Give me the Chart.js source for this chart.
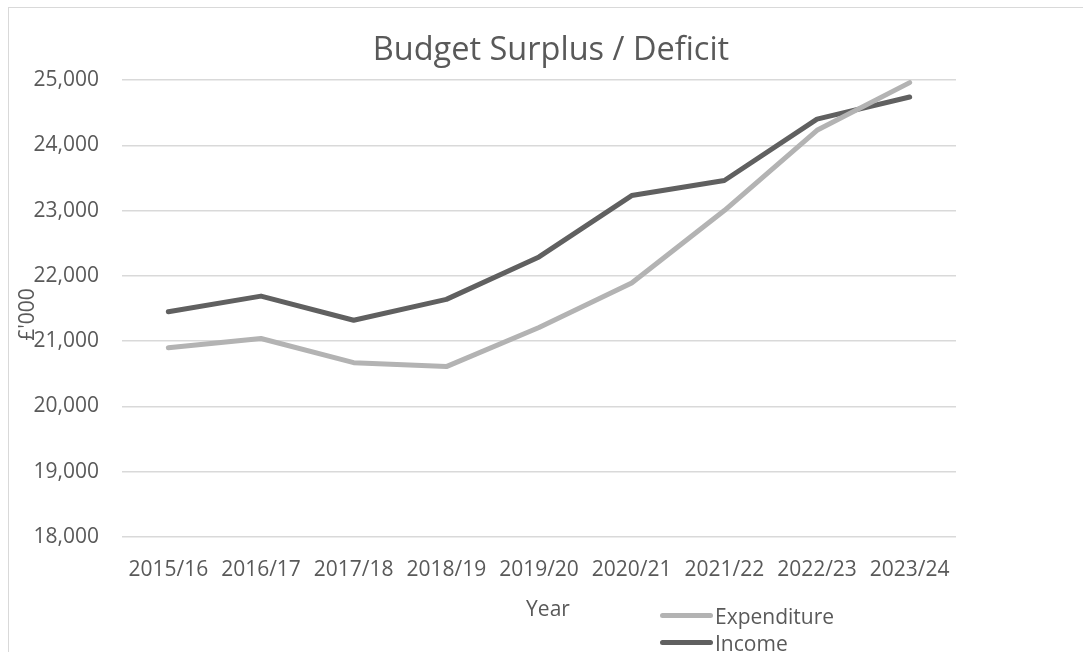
<!DOCTYPE html>
<html lang="en">
<head>
  <meta charset="UTF-8" />
  <title>Budget Surplus / Deficit</title>
  <style>
    body { margin: 0; background: #fff; font-family: 'Open Sans', sans-serif; }
    #wrap { position: relative; width: 1083px; height: 652px; overflow: hidden; }
    #frame { position: absolute; left: 8px; top: 7px; width: 1100px; height: 700px; border: 1px solid #d9d9d9; }
    #myChart { position: absolute; left: 0; top: 0; }
    #legend { position: absolute; left: 660px; top: 602px; color: #595959; font-size: 21px; }
    .item { display: flex; align-items: center; height: 27px; }
    .swatch { width: 53px; height: 5px; border-radius: 3px; margin-right: 2px; }
  </style>
</head>
<body>
  <div id="wrap">
    <div id="frame"></div>
    <canvas id="myChart" width="1083" height="652"></canvas>
    <div id="legend"></div>
  </div>

  <script src="https://cdn.jsdelivr.net/npm/chart.js"></script>
  <script>
    const years = ['2015/16', '2016/17', '2017/18', '2018/19', '2019/20', '2020/21', '2021/22', '2022/23', '2023/24'];
    const expenditure = [20900, 21040, 20670, 20610, 21210, 21890, 23000, 24230, 24960];
    const income = [21450, 21690, 21320, 21640, 22290, 23230, 23460, 24400, 24740];
    const yMin = 18000;
    const yMax = 25000;
    const chartTitle = 'Budget Surplus / Deficit';
    const xAxisTitle = 'Year';
    const yAxisTitle = "£'000";

    const textColor = '#595959';
    const fontFamily = "'Open Sans', sans-serif";

    // titles drawn by hand: they sit off-centre in the original and the y title overlaps the ticks
    const titlesPlugin = {
      id: 'titles',
      afterDraw(chart) {
        const { ctx, chartArea } = chart;
        const midX = (chartArea.left + chartArea.right) / 2;
        ctx.save();
        ctx.fillStyle = textColor;
        ctx.textAlign = 'center';
        ctx.textBaseline = 'middle';
        ctx.font = '32.5px ' + fontFamily;
        ctx.fillText(chartTitle, midX + 12, 51);
        ctx.font = '21px ' + fontFamily;
        ctx.fillText(xAxisTitle, midX + 9, chartArea.bottom + 73);
        ctx.translate(28, (chartArea.top + chartArea.bottom) / 2 + 6);
        ctx.rotate(-Math.PI / 2);
        ctx.fillText(yAxisTitle, 0, 0);
        ctx.restore();
      }
    };

    const chart = new Chart(document.getElementById('myChart'), {
      type: 'line',
      data: {
        labels: years,
        datasets: [
          { label: 'Expenditure', data: expenditure, borderColor: '#b3b3b3', backgroundColor: '#b3b3b3' },
          { label: 'Income', data: income, borderColor: '#606060', backgroundColor: '#606060' }
        ]
      },
      options: {
        responsive: false,
        animation: false,
        elements: {
          line: { borderWidth: 5, borderCapStyle: 'round', borderJoinStyle: 'round', tension: 0 },
          point: { radius: 0, hoverRadius: 0 }
        },
        layout: { padding: { left: 8, right: 127, top: 80, bottom: 31 } },
        plugins: {
          legend: { display: false },
          tooltip: { enabled: false },
          title: { display: false }
        },
        scales: {
          x: {
            offset: true,
            afterFit(scale) { scale.height = 84; },
            grid: { display: false, drawTicks: false },
            border: { display: false },
            ticks: { color: textColor, font: { family: fontFamily, size: 21 }, padding: 20, maxRotation: 0 }
          },
          y: {
            min: yMin,
            max: yMax,
            afterFit(scale) { scale.width = 114; },
            grid: { color: '#d9d9d9', lineWidth: 1.5, drawTicks: false },
            border: { display: false },
            ticks: {
              stepSize: 1000,
              padding: 23,
              color: textColor,
              font: { family: fontFamily, size: 21 },
              callback: v => v.toLocaleString('en-GB')
            }
          }
        }
      },
      plugins: [titlesPlugin]
    });

    const legend = document.getElementById('legend');
    chart.data.datasets.forEach(ds => {
      const row = document.createElement('div');
      row.className = 'item';
      row.innerHTML = '<span class="swatch" style="background:' + ds.borderColor + '"></span><span>' + ds.label + '</span>';
      legend.appendChild(row);
    });
  </script>
</body>
</html>
